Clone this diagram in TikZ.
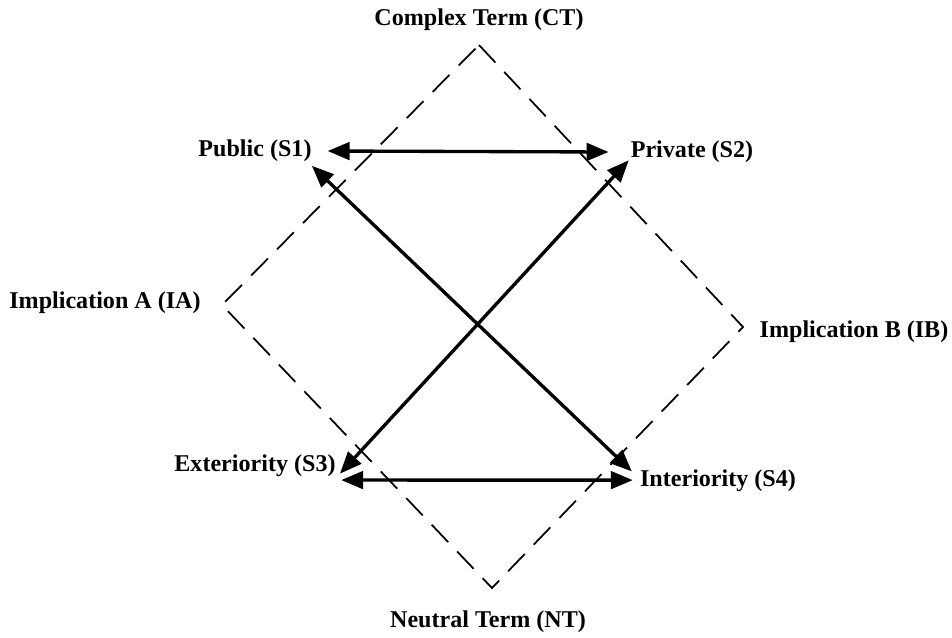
\documentclass[tikz,border=0pt]{standalone}
\usepackage{fontspec}
\setmainfont{Liberation Serif}
\usetikzlibrary{arrows.meta}
\begin{document}
\begin{tikzpicture}[x=0.2cm,y=0.2cm]
\tikzstyle{every node}+=[inner sep=0pt, font=\fontsize{13.7}{16}\selectfont\bfseries]
\tikzstyle{square}=[dash pattern=on 13.6pt off 7.4pt, line width=1pt]
\tikzstyle{link}=[line width=1.9pt, {Triangle[length=12.5pt,width=10pt]}-{Triangle[length=12.5pt,width=10pt]}]
\useasboundingbox (0,0) rectangle (95.2,-63.7);

\draw (47.9,-2.0) node (ct) {Complex Term (CT)};
\draw (25.5,-15.1) node (s1) {Public (S1)};
\draw (69.2,-15.2) node (s2) {Private (S2)};
\draw (10.5,-30.3) node (ia) {Implication A (IA)};
\draw (85.4,-33.2) node (ib) {Implication B (IB)};
\draw (25.5,-46.6) node (s3) {Exteriority (S3)};
\draw (71.8,-48.1) node (s4) {Interiority (S4)};
\draw (48.8,-62.2) node (nt) {Neutral Term (NT)};

\coordinate (top) at (47.9,-4.5);
\coordinate (right) at (74.3,-32.7);
\coordinate (bottom) at (49.2,-58.8);
\coordinate (left) at (22.2,-30.5);
\draw [square] (top) -- (right) -- (bottom) -- (left) -- cycle;

\draw [link] ([xshift=9pt]s1.east) -- ([xshift=-12.5pt]s2.west);
\draw [link] ([shift={(3pt,-8pt)}]s3.east) -- ([shift={(-4pt,0.5pt)}]s4.west);
\draw [link] ([yshift=-2pt]s1.south east) -- ([shift={(-4.5pt,-1pt)}]s4.north west);
\draw [link] ([shift={(2.3pt,-10.8pt)}]s3.north east) -- ([shift={(-1pt,1.7pt)}]s2.south west);
\end{tikzpicture}
\end{document}
